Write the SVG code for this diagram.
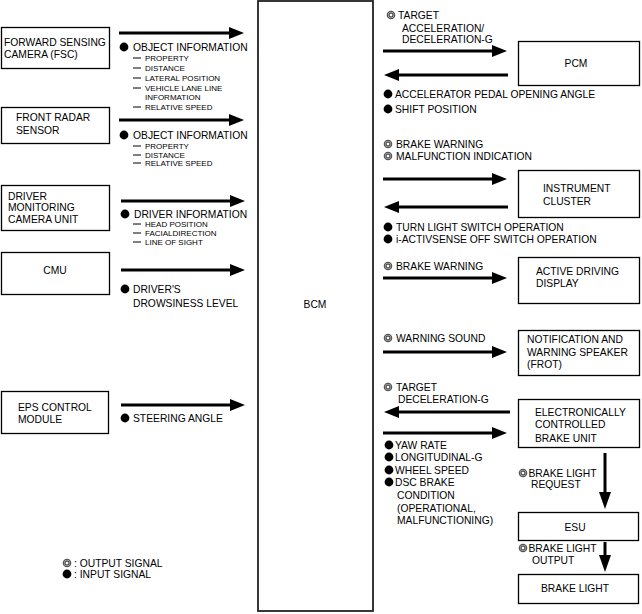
<svg xmlns="http://www.w3.org/2000/svg" width="642" height="614" viewBox="0 0 642 614">
<style>
  .box{fill:#fff;stroke:#000;stroke-width:1.3}
  .bcm{fill:#fff;stroke:#222;stroke-width:1.8}
  text{font-family:"Liberation Sans",Arial,sans-serif;fill:#000}
  .t{font-size:10.3px}
  .s{font-size:8px}
  .c{text-anchor:middle}
  .arr{stroke:#000;stroke-width:3;fill:none}
  .dash{stroke:#000;stroke-width:1}
  .in{fill:#000}
  .out{fill:none;stroke:#555;stroke-width:1.4}
</style>
<defs>
  <marker id="ah" markerUnits="userSpaceOnUse" markerWidth="15" markerHeight="12" refX="2" refY="6" orient="auto">
    <path d="M0,0 L15,6 L0,12 z" fill="#000"/>
  </marker>
  <marker id="ahd" markerUnits="userSpaceOnUse" markerWidth="17" markerHeight="12" refX="2" refY="6" orient="auto">
    <path d="M0,0 L17,6 L0,12 z" fill="#000"/>
  </marker>
  <circle id="bin" r="4.4" class="in"/>
  <g id="bout"><circle r="3.6" class="out"/><circle r="2" class="out" stroke-width="1"/></g>
</defs>

<g id="bcm">
  <rect class="bcm" x="258" y="1" width="115" height="610"/>
  <text class="t c" x="315" y="308">BCM</text>
</g>

<g id="fsc">
  <rect class="box" x="1.5" y="27.5" width="108" height="41"/>
  <text class="t" x="4" y="46">FORWARD SENSING</text>
  <text class="t" x="4" y="58">CAMERA (FSC)</text>
</g>
<g id="radar">
  <rect class="box" x="1.5" y="107.5" width="108" height="36"/>
  <text class="t" x="16" y="121">FRONT RADAR</text>
  <text class="t" x="16" y="134">SENSOR</text>
</g>
<g id="dmc">
  <rect class="box" x="1.5" y="185.5" width="108" height="45"/>
  <text class="t" x="8" y="200">DRIVER</text>
  <text class="t" x="8" y="211">MONITORING</text>
  <text class="t" x="8" y="223">CAMERA UNIT</text>
</g>
<g id="cmu">
  <rect class="box" x="1.5" y="252.5" width="108" height="42"/>
  <text class="t c" x="55" y="274">CMU</text>
</g>
<g id="eps">
  <rect class="box" x="1.5" y="391.5" width="107" height="42"/>
  <text class="t" x="18" y="411">EPS CONTROL</text>
  <text class="t" x="18" y="423">MODULE</text>
</g>

<g id="pcm">
  <rect class="box" x="518.5" y="41.5" width="121" height="44"/>
  <text class="t c" x="576" y="67">PCM</text>
</g>
<g id="cluster">
  <rect class="box" x="518.5" y="170.5" width="121" height="47"/>
  <text class="t" x="543" y="192">INSTRUMENT</text>
  <text class="t" x="543" y="205">CLUSTER</text>
</g>
<g id="add">
  <rect class="box" x="518.5" y="257.5" width="121" height="46"/>
  <text class="t" x="536" y="275">ACTIVE DRIVING</text>
  <text class="t" x="536" y="287">DISPLAY</text>
</g>
<g id="speaker">
  <rect class="box" x="518.5" y="330.5" width="121" height="45"/>
  <text class="t" x="527" y="343">NOTIFICATION AND</text>
  <text class="t" x="527" y="356">WARNING SPEAKER</text>
  <text class="t" x="527" y="368">(FROT)</text>
</g>
<g id="ecbu">
  <rect class="box" x="518.5" y="399.5" width="121" height="48"/>
  <text class="t" x="535" y="416">ELECTRONICALLY</text>
  <text class="t" x="535" y="428">CONTROLLED</text>
  <text class="t" x="535" y="442">BRAKE UNIT</text>
</g>
<g id="esu">
  <rect class="box" x="518.5" y="512.5" width="120" height="28"/>
  <text class="t c" x="575" y="531">ESU</text>
</g>
<g id="brakelight">
  <rect class="box" x="518.5" y="574.5" width="120" height="29"/>
  <text class="t c" x="575" y="592">BRAKE LIGHT</text>
</g>

<g id="connectors">
  <line class="arr" x1="119" y1="33" x2="231" y2="33" marker-end="url(#ah)"/>
  <line class="arr" x1="119" y1="120" x2="231" y2="120" marker-end="url(#ah)"/>
  <line class="arr" x1="121" y1="201" x2="232" y2="201" marker-end="url(#ah)"/>
  <line class="arr" x1="121" y1="270" x2="232" y2="270" marker-end="url(#ah)"/>
  <line class="arr" x1="121" y1="405" x2="232" y2="405" marker-end="url(#ah)"/>

  <line class="arr" x1="383" y1="51" x2="494" y2="51" marker-end="url(#ah)"/>
  <line class="arr" x1="508" y1="75" x2="397" y2="75" marker-end="url(#ah)"/>
  <line class="arr" x1="383" y1="179" x2="494" y2="179" marker-end="url(#ah)"/>
  <line class="arr" x1="508" y1="207" x2="397" y2="207" marker-end="url(#ah)"/>
  <line class="arr" x1="383" y1="278" x2="494" y2="278" marker-end="url(#ah)"/>
  <line class="arr" x1="383" y1="352" x2="494" y2="352" marker-end="url(#ah)"/>
  <line class="arr" x1="510" y1="412" x2="397" y2="412" marker-end="url(#ah)"/>
  <line class="arr" x1="383" y1="433" x2="494" y2="433" marker-end="url(#ah)"/>
  <line class="arr" x1="605" y1="453" x2="605" y2="494" marker-end="url(#ahd)"/>
  <line class="arr" x1="605" y1="542" x2="605" y2="557" marker-end="url(#ahd)"/>
</g>

<g id="labels">
  <!-- FSC -->
  <use href="#bin" x="124" y="47"/>
  <text class="t" x="133" y="51">OBJECT INFORMATION</text>
  <line class="dash" x1="133" y1="58" x2="141" y2="58"/><text class="s" x="145" y="60.9">PROPERTY</text>
  <line class="dash" x1="133" y1="68" x2="141" y2="68"/><text class="s" x="145" y="70.9">DISTANCE</text>
  <line class="dash" x1="133" y1="78" x2="141" y2="78"/><text class="s" x="145" y="80.9">LATERAL POSITION</text>
  <line class="dash" x1="133" y1="88" x2="141" y2="88"/><text class="s" x="145" y="90.9">VEHICLE LANE LINE</text>
  <text class="s" x="145" y="99.9">INFORMATION</text>
  <line class="dash" x1="133" y1="107" x2="141" y2="107"/><text class="s" x="145" y="109.9">RELATIVE SPEED</text>
  <!-- Radar -->
  <use href="#bin" x="124" y="135"/>
  <text class="t" x="133" y="139">OBJECT INFORMATION</text>
  <line class="dash" x1="133" y1="146" x2="141" y2="146"/><text class="s" x="145" y="148.9">PROPERTY</text>
  <line class="dash" x1="133" y1="155" x2="141" y2="155"/><text class="s" x="145" y="157.9">DISTANCE</text>
  <line class="dash" x1="133" y1="163" x2="141" y2="163"/><text class="s" x="145" y="165.9">RELATIVE SPEED</text>
  <!-- DMC -->
  <use href="#bin" x="125" y="214"/>
  <text class="t" x="134" y="218">DRIVER INFORMATION</text>
  <line class="dash" x1="133" y1="224" x2="141" y2="224"/><text class="s" x="145" y="226.9">HEAD POSITION</text>
  <line class="dash" x1="133" y1="233" x2="141" y2="233"/><text class="s" x="145" y="235.9">FACIALDIRECTION</text>
  <line class="dash" x1="133" y1="242" x2="141" y2="242"/><text class="s" x="145" y="244.9">LINE OF SIGHT</text>
  <!-- CMU -->
  <use href="#bin" x="125" y="289"/>
  <text class="t" x="133" y="293">DRIVER'S</text>
  <text class="t" x="133" y="307">DROWSINESS LEVEL</text>
  <!-- EPS -->
  <use href="#bin" x="125" y="418"/>
  <text class="t" x="133" y="422">STEERING ANGLE</text>

  <!-- PCM -->
  <use href="#bout" x="391" y="15"/>
  <text class="t" x="398" y="19">TARGET</text>
  <text class="t" x="402" y="32">ACCELERATION/</text>
  <text class="t" x="402" y="43">DECELERATION-G</text>
  <use href="#bin" x="388" y="94"/>
  <text class="t" x="395" y="98">ACCELERATOR PEDAL OPENING ANGLE</text>
  <use href="#bin" x="388" y="109"/>
  <text class="t" x="395" y="113">SHIFT POSITION</text>
  <!-- Cluster -->
  <use href="#bout" x="388" y="144"/>
  <text class="t" x="396" y="148">BRAKE WARNING</text>
  <use href="#bout" x="388" y="156"/>
  <text class="t" x="396" y="160">MALFUNCTION INDICATION</text>
  <use href="#bin" x="388" y="227"/>
  <text class="t" x="396" y="231">TURN LIGHT SWITCH OPERATION</text>
  <use href="#bin" x="388" y="239"/>
  <text class="t" x="396" y="243">i-ACTIVSENSE OFF SWITCH OPERATION</text>
  <!-- ADD -->
  <use href="#bout" x="388" y="266"/>
  <text class="t" x="396" y="270">BRAKE WARNING</text>
  <!-- Speaker -->
  <use href="#bout" x="388" y="338"/>
  <text class="t" x="396" y="342">WARNING SOUND</text>
  <!-- ECBU -->
  <use href="#bout" x="388" y="387"/>
  <text class="t" x="396" y="391">TARGET</text>
  <text class="t" x="398" y="403">DECELERATION-G</text>
  <use href="#bin" x="389" y="445"/>
  <text class="t" x="395" y="449">YAW RATE</text>
  <use href="#bin" x="389" y="457"/>
  <text class="t" x="395" y="461">LONGITUDINAL-G</text>
  <use href="#bin" x="389" y="470"/>
  <text class="t" x="395" y="474">WHEEL SPEED</text>
  <use href="#bin" x="389" y="482"/>
  <text class="t" x="395" y="486">DSC BRAKE</text>
  <text class="t" x="397" y="499">CONDITION</text>
  <text class="t" x="397" y="512">(OPERATIONAL,</text>
  <text class="t" x="397" y="524">MALFUNCTIONING)</text>
  <!-- ESU -->
  <use href="#bout" x="523" y="473"/>
  <text class="t" x="528.5" y="477">BRAKE LIGHT</text>
  <text class="t" x="531" y="488">REQUEST</text>
  <use href="#bout" x="523" y="548"/>
  <text class="t" x="528.5" y="552">BRAKE LIGHT</text>
  <text class="t" x="532" y="564">OUTPUT</text>
  <!-- Legend -->
  <use href="#bout" x="67" y="563"/>
  <text class="t" x="74" y="567">: OUTPUT SIGNAL</text>
  <use href="#bin" x="67" y="574"/>
  <text class="t" x="74" y="578">: INPUT SIGNAL</text>
</g>
</svg>
